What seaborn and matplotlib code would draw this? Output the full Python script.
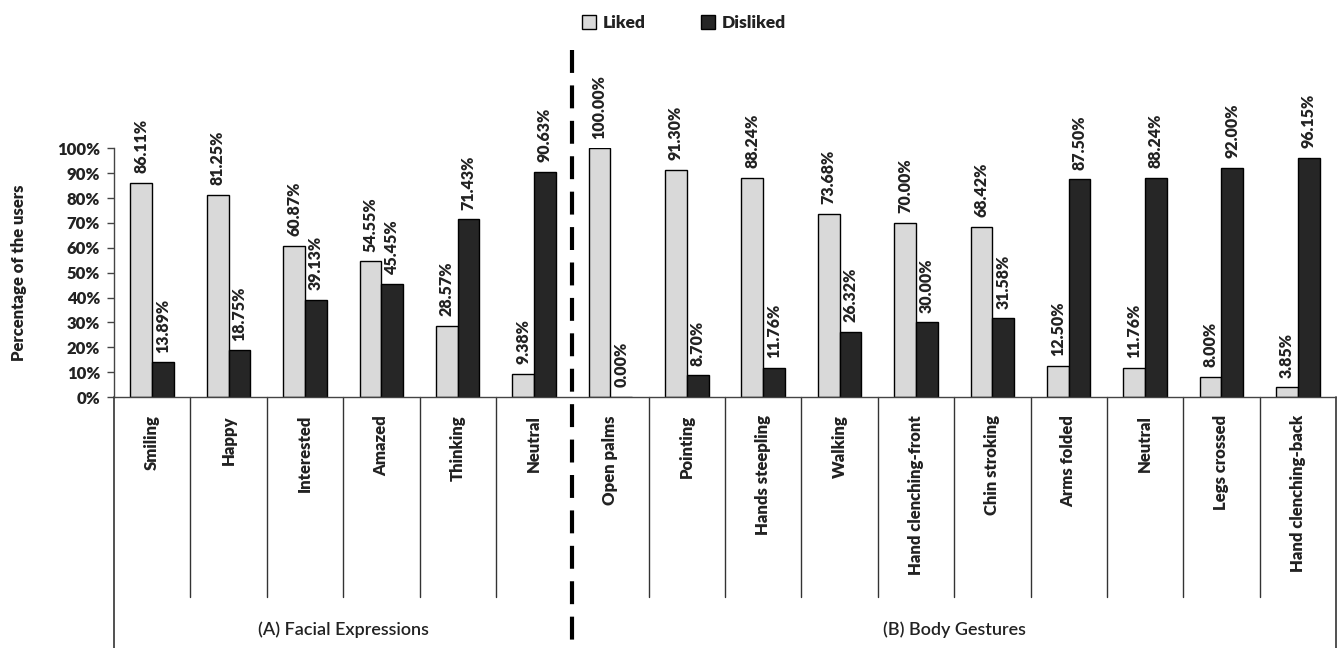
import matplotlib
matplotlib.use("Agg")
import matplotlib.pyplot as plt
import matplotlib.transforms as mtransforms
from matplotlib.patches import Patch
import seaborn as sns
import pandas as pd

categories = ["Smiling", "Happy", "Interested", "Amazed", "Thinking", "Neutral",
              "Open palms", "Pointing", "Hands steepling", "Walking",
              "Hand clenching-front", "Chin stroking", "Arms folded", "Neutral",
              "Legs crossed", "Hand clenching-back"]
liked = [86.11, 81.25, 60.87, 54.55, 28.57, 9.38, 100.00, 91.30, 88.24, 73.68,
         70.00, 68.42, 12.50, 11.76, 8.00, 3.85]
disliked = [13.89, 18.75, 39.13, 45.45, 71.43, 90.63, 0.00, 8.70, 11.76, 26.32,
            30.00, 31.58, 87.50, 88.24, 92.00, 96.15]
series_names = ["Liked", "Disliked"]
group_names = ["(A) Facial Expressions", "(B) Body Gestures"]
group_sizes = [6, 10]
yticks = [0, 10, 20, 30, 40, 50, 60, 70, 80, 90, 100]

rows = []
for i in range(len(categories)):
    rows.append({"pos": i, "series": series_names[0], "value": liked[i]})
    rows.append({"pos": i, "series": series_names[1], "value": disliked[i]})
df = pd.DataFrame(rows)

sns.set_style("white")
plt.rcParams["font.family"] = ["Lato", "DejaVu Sans"]

BOLD = "heavy"
W, H = 1337, 648
fig = plt.figure(figsize=(W / 100, H / 100), dpi=100)
ax_left, ax_right = 114 / W, 1336 / W
ax_bottom_px, ax_top_px = 397, 148.3
ax = fig.add_axes([ax_left, (H - ax_bottom_px) / H, ax_right - ax_left,
                   (ax_bottom_px - ax_top_px) / H])
ax_h_px = ax_bottom_px - ax_top_px

colors = ["#d9d9d9", "#262626"]
sns.barplot(data=df, x="pos", y="value", hue="series", order=list(range(len(categories))),
            hue_order=series_names, palette=colors, edgecolor="black", linewidth=1,
            width=0.57, gap=0, legend=False, ax=ax, errorbar=None)

ax.set_xlim(-0.5, len(categories) - 0.5)
ax.set_ylim(0, 100)

# value labels
for cont in ax.containers:
    ax.bar_label(cont, labels=[f"{b.get_height():.2f}%" for b in cont], rotation=90,
                 padding=7, fontsize=11.5, fontweight=BOLD, color="#222222",
                 clip_on=False)

# y axis
ax.set_yticks(yticks)
ax.set_yticklabels([f"{v}%" for v in yticks], fontsize=12, fontweight=BOLD,
                   color="#222222")
ax.tick_params(axis="y", direction="out", length=5, width=1, color="#444444",
               left=True, pad=5)
ax.set_ylabel("Percentage of the users", fontsize=12, fontweight=BOLD,
              color="#222222")
ax.yaxis.set_label_coords((27 - 114) / (1336 - 114), 0.5)

# x axis labels
ax.set_xticks(range(len(categories)))
ax.set_xticklabels(categories, rotation=90, fontsize=12, fontweight=BOLD,
                   color="#222222", va="top", ha="center")
ax.tick_params(axis="x", length=0, pad=13)
ax.set_xlabel("")

for s in ["top", "right"]:
    ax.spines[s].set_visible(False)
ax.spines["left"].set_color("#444444")
ax.spines["bottom"].set_color("#444444")
ax.spines["left"].set_linewidth(1)
ax.spines["bottom"].set_linewidth(1)

trans = mtransforms.blended_transform_factory(ax.transData, ax.transAxes)
sep_bottom = -(597 - ax_bottom_px) / ax_h_px
fig_bottom = -(H - ax_bottom_px) / ax_h_px
# separators between categories
dash_after = group_sizes[0]
for k in range(1, len(categories)):
    if k == dash_after:
        continue
    ax.plot([k - 0.5, k - 0.5], [0, sep_bottom], transform=trans, color="#333333",
            lw=1, clip_on=False)
# left axis extension and right edge
ax.plot([-0.5, -0.5], [0, fig_bottom], transform=trans, color="#333333", lw=1.2,
        clip_on=False)
ax.plot([len(categories) - 0.5] * 2, [0, fig_bottom], transform=trans, color="#333333",
        lw=1.2, clip_on=False)
# dashed group divider
dash_top = (ax_bottom_px - 50) / ax_h_px
ax.plot([dash_after - 0.5] * 2, [dash_top, fig_bottom], transform=trans, color="black",
        lw=3, linestyle=(0, (5.5, 3)), clip_on=False)

# group labels
start = 0
group_y = -(630 - ax_bottom_px) / ax_h_px
for name, n in zip(group_names, group_sizes):
    center = start + n / 2 - 0.5
    ax.text(center, group_y, name, transform=trans, ha="center", va="center",
            fontsize=13, fontweight="semibold", color="#222222")
    start += n

# legend
handles = [Patch(facecolor=colors[0], edgecolor="black", linewidth=1),
           Patch(facecolor=colors[1], edgecolor="black", linewidth=1)]
leg = fig.legend(handles, series_names, loc="center", bbox_to_anchor=(684 / W, 1 - 23 / H),
                 ncol=2, frameon=False, handlelength=0.8, handleheight=0.8,
                 handletextpad=0.4, columnspacing=3.2,
                 prop={"weight": BOLD, "size": 12.5})
for t in leg.get_texts():
    t.set_color("#222222")

fig.savefig("out.png", dpi=100)
